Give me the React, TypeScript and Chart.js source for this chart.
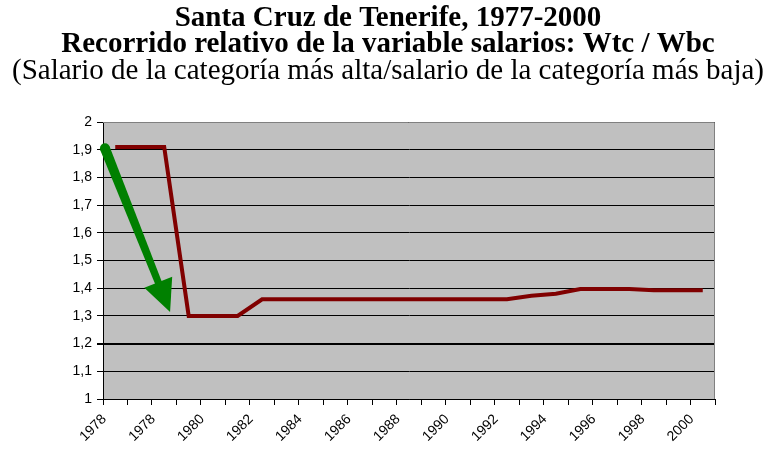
import React, { useEffect, useRef } from 'react';
import { Chart, registerables } from 'chart.js';

Chart.register(...registerables);

const titleLines = [
  'Santa Cruz de Tenerife, 1977-2000',
  'Recorrido relativo de la variable salarios: Wtc / Wbc',
];
const subtitleText = '(Salario de la categoría más alta/salario de la categoría más baja)';

const categories = [
  '1976', '1977', '1978', '1979', '1980', '1981', '1982', '1983', '1984', '1985',
  '1986', '1987', '1988', '1989', '1990', '1991', '1992', '1993', '1994', '1995',
  '1996', '1997', '1998', '1999', '2000',
];
// labels as printed on the axis (every other category)
const xTickLabels = ['1978', '1978', '1980', '1982', '1984', '1986', '1988', '1990', '1992', '1994', '1996', '1998', '2000'];

const ratioValues = [
  1.91, 1.91, 1.91, 1.3, 1.3, 1.3, 1.36, 1.36, 1.36, 1.36,
  1.36, 1.36, 1.36, 1.36, 1.36, 1.36, 1.36, 1.373, 1.38, 1.397,
  1.397, 1.397, 1.393, 1.393, 1.393,
];

const yMin = 1;
const yMax = 2;
const yStep = 0.1;

// annotation arrow, in data coordinates (category index, value)
const arrowStart = { index: -0.42, value: 1.905 };
const arrowEnd = { index: 2.24, value: 1.314 };

const fmtY = (v: number) => {
  const r = Math.round(v * 10) / 10;
  return Number.isInteger(r) ? String(r) : r.toFixed(1).replace('.', ',');
};

const plotBg = {
  id: 'plotBg',
  beforeDraw(chart: any) {
    const { ctx, chartArea } = chart;
    ctx.save();
    ctx.fillStyle = '#C0C0C0';
    ctx.fillRect(chartArea.left, chartArea.top, chartArea.right - chartArea.left, chartArea.bottom - chartArea.top);
    ctx.restore();
  },
  afterDraw(chart: any) {
    const { ctx, chartArea } = chart;
    ctx.save();
    ctx.strokeStyle = '#808080';
    ctx.lineWidth = 1;
    ctx.beginPath();
    ctx.moveTo(chartArea.left, chartArea.top + 0.5);
    ctx.lineTo(chartArea.right - 0.5, chartArea.top + 0.5);
    ctx.lineTo(chartArea.right - 0.5, chartArea.bottom);
    ctx.stroke();
    ctx.restore();
  },
};

const arrowPlugin = {
  id: 'arrowPlugin',
  afterDatasetsDraw(chart: any) {
    const { ctx } = chart;
    const xs = chart.scales.x;
    const ys = chart.scales.y;
    const x0 = xs.getPixelForValue(arrowStart.index);
    const y0 = ys.getPixelForValue(arrowStart.value);
    const x1 = xs.getPixelForValue(arrowEnd.index);
    const y1 = ys.getPixelForValue(arrowEnd.value);
    const dx = x1 - x0;
    const dy = y1 - y0;
    const len = Math.hypot(dx, dy);
    const ux = dx / len;
    const uy = dy / len;
    const px = -uy;
    const py = ux;
    const headLen = 32;
    const headHalf = 15;
    const bx = x1 - ux * headLen;
    const by = y1 - uy * headLen;
    ctx.save();
    ctx.fillStyle = '#008000';
    const w0 = 5;
    const w1 = 3.5;
    ctx.beginPath();
    ctx.moveTo(x0 + px * w0, y0 + py * w0);
    ctx.lineTo(bx + ux * 2 + px * w1, by + uy * 2 + py * w1);
    ctx.lineTo(bx + ux * 2 - px * w1, by + uy * 2 - py * w1);
    ctx.lineTo(x0 - px * w0, y0 - py * w0);
    ctx.closePath();
    ctx.fill();
    ctx.beginPath();
    ctx.arc(x0, y0, w0, 0, Math.PI * 2);
    ctx.fill();
    ctx.beginPath();
    ctx.moveTo(x1, y1);
    ctx.lineTo(bx + px * headHalf, by + py * headHalf);
    ctx.lineTo(bx - px * headHalf, by - py * headHalf);
    ctx.closePath();
    ctx.fill();
    ctx.restore();
  },
};

export default function App() {
  const canvasRef = useRef<HTMLCanvasElement | null>(null);

  useEffect(() => {
    document.body.style.margin = '0';
    const canvas = canvasRef.current;
    if (!canvas) return;
    const yTickValues: number[] = [];
    for (let v = yMin; v <= yMax + 1e-9; v += yStep) yTickValues.push(Math.round(v * 10) / 10);

    const chart = new Chart(canvas, {
      type: 'line',
      data: {
        labels: categories,
        datasets: [
          {
            data: ratioValues,
            borderColor: '#800000',
            backgroundColor: '#800000',
            borderWidth: 4,
            pointRadius: 0,
            tension: 0,
            fill: false,
          },
        ],
      },
      options: {
        responsive: false,
        animation: false,
        devicePixelRatio: 1,
        layout: { padding: { left: 11, right: 0, top: 0, bottom: 0 } },
        plugins: {
          legend: { display: false },
          tooltip: { enabled: false },
          title: {
            display: true,
            text: titleLines,
            color: '#000',
            font: { family: "'Liberation Serif', 'Times New Roman', serif", size: 29, weight: 'bold', lineHeight: '26px' },
            padding: { top: 6, bottom: 0 },
          },
          subtitle: {
            display: true,
            text: subtitleText,
            color: '#000',
            font: { family: "'Liberation Serif', 'Times New Roman', serif", size: 29, weight: 'normal', lineHeight: '27px' },
            padding: { top: 0, bottom: 37 },
          },
        },
        scales: {
          x: {
            type: 'category',
            offset: true,
            afterFit(scale: any) {
              scale.height = 54;
            },
            grid: {
              display: true,
              drawOnChartArea: false,
              drawTicks: true,
              tickLength: 6,
              color: '#000',
              offset: true,
            },
            border: { display: true, color: '#000', width: 1 },
            ticks: {
              autoSkip: false,
              maxRotation: 45,
              minRotation: 45,
              labelOffset: -11,
              padding: 6,
              color: '#000',
              font: { family: "'Liberation Sans', Arial, sans-serif", size: 14 },
              callback: (_v: any, i: number) => (i % 2 === 0 ? xTickLabels[i / 2] : ''),
            },
          },
          y: {
            min: yMin,
            max: yMax,
            afterFit(scale: any) {
              scale.width = 92;
            },
            afterBuildTicks(scale: any) {
              scale.ticks = yTickValues.map((v) => ({ value: v }));
            },
            grid: {
              display: true,
              drawTicks: true,
              tickLength: 6,
              color: '#000',
              lineWidth: (c: any) => (c.tick && Math.abs(c.tick.value - 1.2) < 1e-6 ? 2 : 1),
            },
            border: { display: true, color: '#000', width: 1 },
            ticks: {
              padding: 5,
              color: '#000',
              font: { family: "'Liberation Sans', Arial, sans-serif", size: 14 },
              callback: (v: any) => fmtY(Number(v)),
            },
          },
          yRightSpace: {
            position: 'right',
            display: true,
            min: yMin,
            max: yMax,
            afterFit(scale: any) {
              scale.width = 50;
            },
            grid: { display: false, drawTicks: false },
            border: { display: false },
            ticks: { display: false },
          },
        },
      },
      plugins: [plotBg, arrowPlugin],
    } as any);

    return () => chart.destroy();
  }, []);

  return (
    <div style={{ position: 'fixed', left: 0, top: 0, width: 765, height: 453, background: '#fff' }}>
      <canvas ref={canvasRef} width={765} height={453} />
    </div>
  );
}
